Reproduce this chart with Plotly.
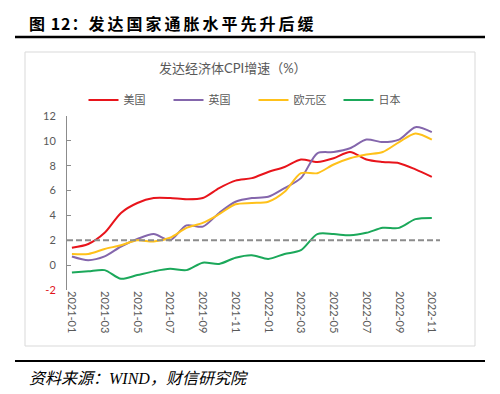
import plotly.graph_objects as go

months = ["2021-01", "2021-02", "2021-03", "2021-04", "2021-05", "2021-06",
          "2021-07", "2021-08", "2021-09", "2021-10", "2021-11", "2021-12",
          "2022-01", "2022-02", "2022-03", "2022-04", "2022-05", "2022-06",
          "2022-07", "2022-08", "2022-09", "2022-10", "2022-11"]
us = [1.4, 1.7, 2.6, 4.2, 5.0, 5.4, 5.4, 5.3, 5.4, 6.2, 6.8, 7.0,
      7.5, 7.9, 8.5, 8.3, 8.6, 9.1, 8.5, 8.3, 8.2, 7.7, 7.1]
uk = [0.7, 0.4, 0.7, 1.5, 2.1, 2.5, 2.0, 3.2, 3.1, 4.2, 5.1, 5.4,
      5.5, 6.2, 7.0, 9.0, 9.1, 9.4, 10.1, 9.9, 10.1, 11.1, 10.7]
ez = [0.9, 0.9, 1.3, 1.6, 2.0, 1.9, 2.2, 3.0, 3.4, 4.1, 4.9, 5.0,
      5.1, 5.9, 7.4, 7.4, 8.1, 8.6, 8.9, 9.1, 9.9, 10.6, 10.1]
jp = [-0.6, -0.5, -0.4, -1.1, -0.8, -0.5, -0.3, -0.4, 0.2, 0.1, 0.6, 0.8,
      0.5, 0.9, 1.2, 2.5, 2.5, 2.4, 2.6, 3.0, 3.0, 3.7, 3.8]
series_names = ["美国", "英国", "欧元区", "日本"]
target = 2
y_ticks = [-2, 0, 2, 4, 6, 8, 10, 12]
x_ticks = months[::2]

colors = ["#E8141B", "#8466AC", "#FFC11A", "#1BA85A"]

OFF = 8  # default page body margin
W, H = 500 - OFF, 394 - OFF
# plot area in page pixels
PL, PR, PT, PB = 67, 440, 116, 290
L, R, T, B = PL - OFF, PR - OFF, PT - OFF, PB - OFF


def px_x(px):
    return (px - PL) / (PR - PL)


def px_y(py):
    return (PB - py) / (PB - PT)


CJK = "Lato, 'Noto Sans CJK SC', sans-serif"
GREY = "#595959"

fig = go.Figure()
for name, vals, c in zip(series_names, [us, uk, ez, jp], colors):
    fig.add_trace(go.Scatter(
        x=months, y=vals, name=name, mode="lines",
        line=dict(color=c, width=2, shape="spline", smoothing=0.8),
    ))

ticktext = [("<span style='color:#E0141B'>%d</span>" % v) if v < 0 else str(v) for v in y_ticks]

fig.update_layout(
    width=W, height=H,
    margin=dict(l=L, r=W - R, t=T, b=H - B, pad=0),
    paper_bgcolor="white", plot_bgcolor="white",
    font=dict(family=CJK, size=11, color=GREY),
    showlegend=True,
    legend=dict(orientation="h", x=0.5, xanchor="center",
                y=px_y(100), yanchor="middle",
                entrywidth=40, entrywidthmode="pixels",
                font=dict(size=11, color=GREY, family=CJK),
                bgcolor="rgba(0,0,0,0)"),
    xaxis=dict(type="category", range=[-0.3, 22.5],
               tickvals=x_ticks, ticktext=x_ticks, tickangle=90,
               showline=False, showgrid=False, zeroline=False, ticks="",
               tickfont=dict(size=11, color=GREY)),
    yaxis=dict(range=[-2, 12], tickvals=y_ticks, ticktext=ticktext,
               showline=True, linecolor="#8C8C8C", linewidth=1,
               ticks="inside", ticklen=4, tickcolor="#8C8C8C",
               showgrid=False, zeroline=False, ticklabelstandoff=8,
               tickfont=dict(size=11, color=GREY)),
)

shapes = [
    # reference line at 2%
    dict(type="line", xref="paper", yref="y", x0=0, x1=1, y0=target, y1=target,
         line=dict(color="#8C8C8C", width=2, dash="6px,3px"), layer="above"),
    # chart border
    dict(type="rect", xref="paper", yref="paper",
         x0=px_x(25), x1=px_x(475), y0=px_y(346), y1=px_y(52),
         line=dict(color="#D9D9D9", width=1), layer="below"),
    # heading underline
    dict(type="line", xref="paper", yref="paper",
         x0=px_x(15), x1=px_x(485), y0=px_y(37), y1=px_y(37),
         line=dict(color="black", width=2.5)),
    # footer line
    dict(type="line", xref="paper", yref="paper",
         x0=px_x(15), x1=px_x(485), y0=px_y(361), y1=px_y(361),
         line=dict(color="black", width=2)),
]
fig.update_layout(shapes=shapes)

heading = ("<b><span style='letter-spacing:1px'>图 12：</span>"
           "<span style='letter-spacing:3px'>发达国家通胀水平先升后缓</span></b>")
source = ("<i>资料来源：<span style=\"font-family:'Liberation Serif',serif\">WIND</span>"
          "，财信研究院</i>")

annotations = [
    dict(text=heading, xref="paper", yref="paper",
         x=px_x(27), y=px_y(23), xanchor="left", yanchor="middle", showarrow=False,
         font=dict(size=16, color="black", family="'Noto Sans CJK SC', sans-serif")),
    dict(text="发达经济体CPI增速（%）", xref="paper", yref="paper",
         x=px_x(233), y=px_y(68), xanchor="center", yanchor="middle", showarrow=False,
         font=dict(size=13, color=GREY, family=CJK)),
    dict(text=source, xref="paper", yref="paper",
         x=px_x(27), y=px_y(377), xanchor="left", yanchor="middle", showarrow=False,
         font=dict(size=16, color="black", family="'Noto Sans CJK SC', serif")),
]
fig.update_layout(annotations=annotations)

fig.write_html("out.html")
